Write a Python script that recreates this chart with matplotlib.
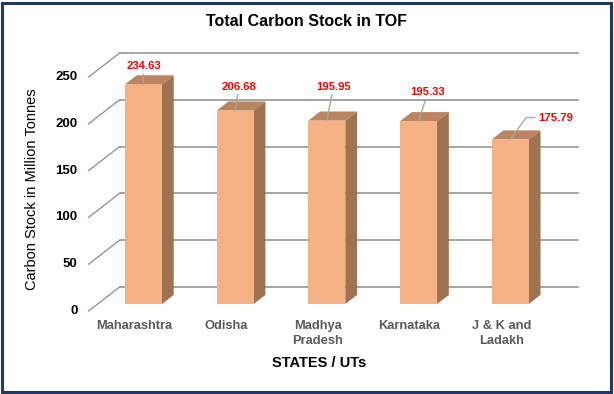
import matplotlib
matplotlib.use('Agg')
import matplotlib.pyplot as plt
from matplotlib.patches import Polygon, Rectangle

plt.rcParams['font.family'] = ['Liberation Sans', 'DejaVu Sans']

# Data
states = ['Maharashtra', 'Odisha', 'Madhya\nPradesh', 'Karnataka', 'J & K and\nLadakh']
carbon_stock = [234.63, 206.68, 195.95, 195.33, 175.79]
y_ticks = [0, 50, 100, 150, 200, 250]

# Styling
W, H = 614, 394
PX_CAT = 91.7          # px per category (front plane)
PX_UNIT = 0.936        # px per value unit
X_LEFT = 88.6          # px of x=-0.5 on front plane
Y_ZERO = 311           # px from top of value 0 on front plane
DX = 31 / PX_CAT       # full depth offset, in data units
DY = 24 / PX_UNIT
D0, D1 = 0.29, 0.67    # bar depth range
BAR_W = 37 / PX_CAT
FRONT = '#F4B183'
SIDE = '#9E7352'
TOP = '#B9845F'
GRID = '#8C8C8C'

fig = plt.figure(figsize=(W / 100, H / 100), dpi=100)
ax = fig.add_axes([0, 0, 1, 1])
ax.set_xlim(-0.5 - X_LEFT / PX_CAT, -0.5 + (W - X_LEFT) / PX_CAT)
ax.set_ylim(-(H - Y_ZERO) / PX_UNIT, Y_ZERO / PX_UNIT)
ax.axis('off')

n = len(states)
x_lo, x_hi = -0.5, n - 0.5

# back wall gridlines + side wall diagonals
for t in y_ticks:
    ax.plot([x_lo + DX, x_hi + DX], [t + DY, t + DY], color=GRID, lw=1.1, zorder=1)
    ax.plot([x_lo, x_lo + DX], [t, t + DY], color=GRID, lw=0.9, zorder=1)
    ax.annotate(str(t), (x_lo, t), xytext=(-11, 0), textcoords='offset pixels',
                ha='right', va='center', fontsize=9.5, fontweight='bold', color='black')

# 3D bars
label_offsets = [(0, 18), (4, 24), (6.5, 34), (9.5, 29), (45, 22)]
for i, v in enumerate(carbon_stock):
    x0 = i - BAR_W / 2 + D0 * DX
    x1 = x0 + BAR_W
    y0 = D0 * DY
    ddx = (D1 - D0) * DX
    ddy = (D1 - D0) * DY
    front = Rectangle((x0, y0), BAR_W, v, facecolor=FRONT, edgecolor='none', zorder=3)
    side = Polygon([(x1, y0), (x1 + ddx, y0 + ddy), (x1 + ddx, y0 + v + ddy), (x1, y0 + v)],
                   closed=True, facecolor=SIDE, edgecolor='none', zorder=3)
    top = Polygon([(x0, y0 + v), (x1, y0 + v), (x1 + ddx, y0 + v + ddy), (x0 + ddx, y0 + v + ddy)],
                  closed=True, facecolor=TOP, edgecolor='none', zorder=3)
    for p in (side, top, front):
        ax.add_patch(p)

    conn = 'angle,angleA=0,angleB=54,rad=0' if i == n - 1 else 'arc3'
    ax.annotate(f'{v:.2f}', ((x0 + x1) / 2, y0 + v), xytext=label_offsets[i],
                textcoords='offset pixels', ha='center', va='center',
                fontsize=8.2, fontweight='bold', color='#FF0000', zorder=5,
                arrowprops=dict(arrowstyle='-', color='#A6A6A6', lw=1.0,
                                shrinkA=0, shrinkB=0, connectionstyle=conn))

# category labels
for i, s in enumerate(states):
    ax.annotate(s, (i, 0), xytext=(0, -9), textcoords='offset pixels',
                ha='center', va='top', fontsize=9.3, fontweight='bold',
                color='#595959', linespacing=1.3)

# titles
fig.text(307 / W, 1 - 21 / H, 'Total Carbon Stock in TOF', ha='center', va='center',
         fontsize=11.5, fontweight='bold', color='black')
fig.text(319 / W, 1 - 363 / H, 'STATES / UTs', ha='center', va='center',
         fontsize=10.5, fontweight='bold', color='black')
fig.text(32 / W, 1 - 189 / H, 'Carbon Stock in Million Tonnes', ha='center', va='center',
         rotation=90, fontsize=10.5, color='black')

# frame
fig.patches.append(Rectangle((2 / W, 2 / H), 609 / W, 389 / H, transform=fig.transFigure,
                             fill=False, edgecolor='#1F3864', lw=2.2))

fig.savefig('out.png', dpi=100, facecolor='white')
